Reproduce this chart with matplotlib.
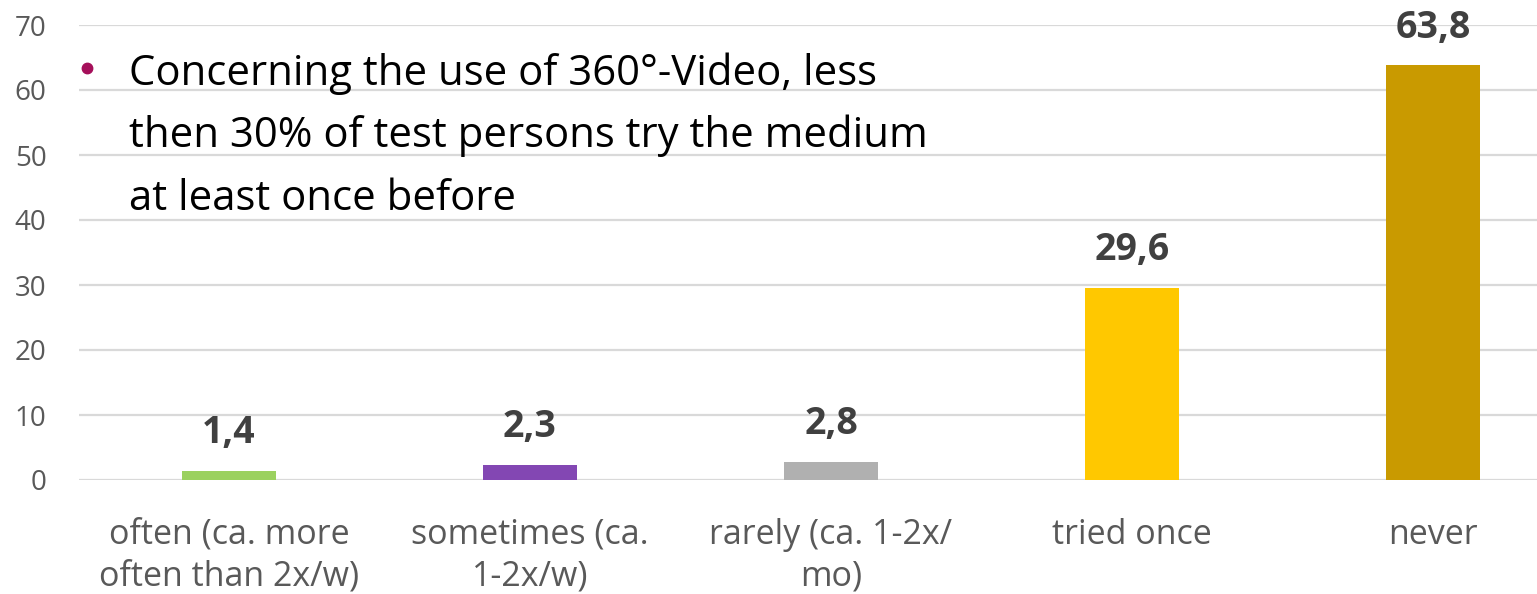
import matplotlib
matplotlib.use("Agg")
import matplotlib.pyplot as plt
from matplotlib.lines import Line2D

categories = ["often (ca. more\noften than 2x/w)", "sometimes (ca.\n1-2x/w)",
              "rarely (ca. 1-2x/\nmo)", "tried once", "never"]
values = [1.4, 2.3, 2.8, 29.6, 63.8]
value_labels = ["1,4", "2,3", "2,8", "29,6", "63,8"]
colors = ["#9BD15F", "#8347B3", "#B0B0B0", "#FFC800", "#C99A00"]
yticks = [0, 10, 20, 30, 40, 50, 60, 70]
bullet_lines = ["Concerning the use of 360°-Video, less",
                "then 30% of test persons try the medium",
                "at least once before"]

W, H = 1537, 594
plt.rcParams['font.family'] = ['Open Sans', 'DejaVu Sans']
fig = plt.figure(figsize=(W / 100, H / 100), dpi=100)

# axes in pixel geometry
left_px, right_px, bottom_px, top_px = 78.5, 1583.5, 480, 25
ax = fig.add_axes([left_px / W, 1 - bottom_px / H,
                   (right_px - left_px) / W, (bottom_px - top_px) / H])

x = list(range(len(categories)))
ax.bar(x, values, width=94 / 301, color=colors, zorder=3)
ax.set_xlim(-0.5, len(categories) - 0.5)
ax.set_ylim(0, 70)
ax.set_yticks(yticks)
ax.set_yticklabels([str(t) for t in yticks])
ax.set_xticks(x)
ax.set_xticklabels(categories, linespacing=1.3, fontsize=24.5)
ax.yaxis.grid(True, color="#D9D9D9", linewidth=1.6, zorder=0)
ax.set_axisbelow(True)
for s in ax.spines.values():
    s.set_visible(False)
ax.tick_params(axis="both", length=0, labelcolor="#595959")
ax.tick_params(axis="y", pad=23, labelsize=20)
ax.tick_params(axis="x", pad=27)
for lbl in ax.get_yticklabels():
    lbl.set_horizontalalignment("right")

for xi, v, lab in zip(x, values, value_labels):
    ax.annotate(lab, (xi, v), xytext=(0, 20), textcoords="offset points",
                ha="center", va="baseline", fontsize=27, fontweight="bold",
                color="#404040", clip_on=False, zorder=4)

# bullet text
baselines = [85, 147, 210]
for line, yb in zip(bullet_lines, baselines):
    fig.text(129 / W, 1 - yb / H, line, ha="left", va="baseline",
             fontsize=30.2, color="#000000")
fig.add_artist(Line2D([87 / W], [1 - 68 / H], marker="o", markersize=7.5,
                      color="#A50F5A", transform=fig.transFigure))

fig.savefig("out.png", dpi=100)
